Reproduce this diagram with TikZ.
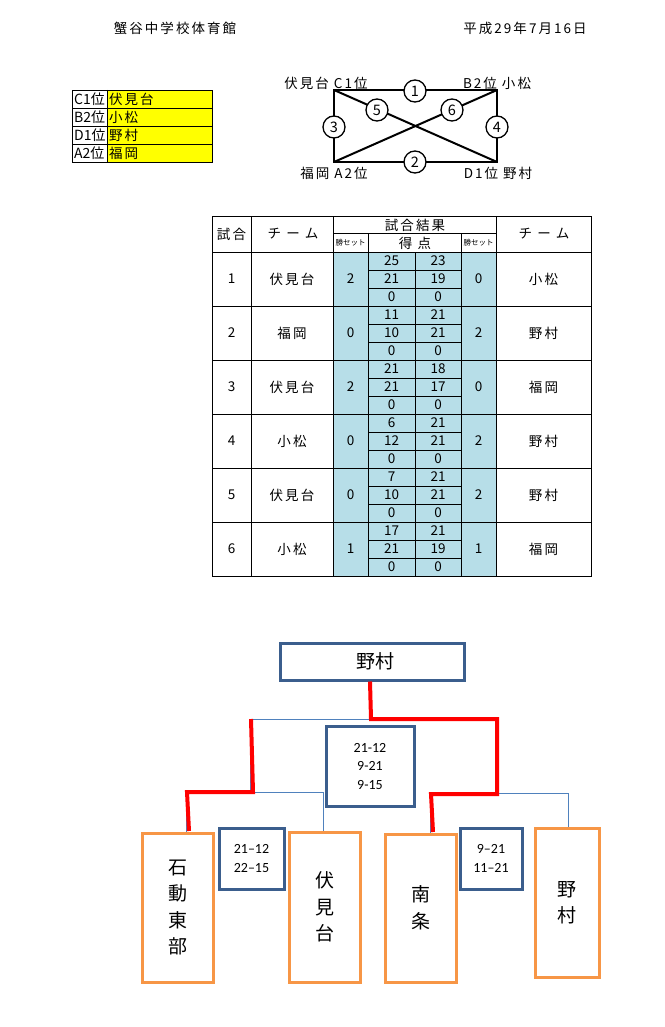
\documentclass[tikz,border=0pt]{standalone}
\usepackage{fontspec}
\newfontfamily\jp[LetterSpace=15]{Noto Sans CJK JP}
\newfontfamily\jpwide[LetterSpace=40]{Noto Sans CJK JP}
\newfontfamily\jpn{Noto Sans CJK JP}
\newfontfamily\calf{Carlito}
\definecolor{boxblue}{HTML}{3B5E8D}
\definecolor{orng}{HTML}{F79646}
\definecolor{thinblue}{HTML}{4F81BD}
\definecolor{tblue}{HTML}{B7DEE8}
\definecolor{yel}{HTML}{FFFF00}
\tikzset{
 txt/.style={inner sep=0pt, font=\jp\fontsize{13.5}{16}\selectfont},
 ntxt/.style={inner sep=0pt, font=\jpn\fontsize{14}{16}\selectfont},
 wtxt/.style={inner sep=0pt, font=\jpwide\fontsize{13.5}{16}\selectfont},
 tnum/.style={inner sep=0pt, font=\jpn\fontsize{13.5}{15}\selectfont},
 smalltxt/.style={inner sep=0pt, font=\jpn\fontsize{7.5}{9}\selectfont},
 tline/.style={line width=0.9pt, black},
 diag/.style={line width=2pt, black},
 cnum/.style={circle, draw=black, line width=1.3pt, fill=white, minimum size=22pt, inner sep=0pt, font=\jpn\fontsize{14.5}{16}\selectfont},
 bluebox/.style={draw=boxblue, line width=3pt, fill=white, inner sep=0pt},
 orangebox/.style={draw=orng, line width=3pt, fill=white, inner sep=0pt, align=center, font=\jpn\fontsize{19}{26.5}\selectfont},
 score/.style={bluebox, align=center, font=\calf\fontsize{14}{18.5}\selectfont},
 brk/.style={draw=thinblue, line width=0.9pt},
 win/.style={draw=red, line width=4pt},
}
\begin{document}
\begin{tikzpicture}[x=1pt,y=-1pt]
\useasboundingbox (0,0) rectangle (664,1027);
\fill[white] (0,0) rectangle (664,1027);

% heading
\node[txt] (title) at (175,28) {蟹谷中学校体育館};
\node[txt] (date) at (525,28) {平成29年7月16日};

% small table
\fill[yel] (107,90) rectangle (212,162);
\draw[tline] (72,90) rectangle (212,162);
\draw[tline] (107,90) -- (107,162);
\foreach \y in {108,126,144} \draw[tline] (72,\y) -- (212,\y);
\foreach \k/\p/\t [count=\j] in {C1位/伏見台/99, B2位/小松/117, D1位/野村/135, A2位/福岡/153}{
  \node[ntxt, anchor=west] (pl\j) at (74,\t) {\k};
  \node[txt, anchor=west] (pt\j) at (109,\t) {\p};
}

% league diagram
\coordinate (tl) at (334,90);
\coordinate (tr) at (497,90);
\coordinate (bl) at (334,162);
\coordinate (br) at (497,162);
\draw[diag] (tl) -- (tr) -- (br) -- (bl) -- cycle;
\draw[diag] (tl) -- (br);
\draw[diag] (tr) -- (bl);
\node[cnum] (c1) at (415,91) {1};
\node[cnum] (c2) at (415,162) {2};
\node[cnum] (c3) at (334,127) {3};
\node[cnum] (c4) at (497,127) {4};
\node[cnum] (c5) at (377,110) {5};
\node[cnum] (c6) at (452,110) {6};
\node[txt] (ltl) at (326,83) {伏見台 C1位};
\node[txt] (ltr) at (497,83) {B2位 小松};
\node[txt] (lbl) at (334,173) {福岡 A2位};
\node[txt] (lbr) at (498,173) {D1位 野村};

% results table
\fill[tblue] (333,252) rectangle (496,576);
\draw[tline] (212,216) rectangle (591,576);
\foreach \x in {251,333,496} \draw[tline] (\x,216) -- (\x,576);
\draw[tline] (333,233.5) -- (496,233.5);
\foreach \x in {368,461} \draw[tline] (\x,233.5) -- (\x,576);
\draw[tline] (415,252) -- (415,576);
\foreach \y in {252,306,360,414,468,522}{
  \draw[tline] (212,\y) -- (591,\y);
  \draw[tline] (368,{\y+18}) -- (461,{\y+18});
  \draw[tline] (368,{\y+36}) -- (461,{\y+36});
}
\node[txt] (h1) at (231.5,234) {試合};
\node[wtxt] (h2) at (293,234) {チーム};
\node[txt] (h3) at (415,225) {試合結果};
\node[smalltxt] (h4) at (350.5,243) {勝セット};
\node[wtxt] (h5) at (415,243) {得点};
\node[smalltxt] (h6) at (478.5,243) {勝セット};
\node[wtxt] (h7) at (544,234) {チーム};
\foreach \a/\sa/\pa/\pb/\qa/\qb/\sb/\b [count=\i] in {
  伏見台/2/25/23/21/19/0/小松,
  福岡/0/11/21/10/21/2/野村,
  伏見台/2/21/18/21/17/0/福岡,
  小松/0/6/21/12/21/2/野村,
  伏見台/0/7/21/10/21/2/野村,
  小松/1/17/21/21/19/1/福岡}{
  \pgfmathsetmacro\t{252+54*(\i-1)}
  \node[tnum] (m\i n) at (231.5,{\t+27}) {\i};
  \node[txt] (m\i a) at (292,{\t+27}) {\a};
  \node[tnum] (m\i sa) at (350.5,{\t+27}) {\sa};
  \node[tnum] (m\i pa) at (391.5,{\t+9}) {\pa};
  \node[tnum] (m\i pb) at (438,{\t+9}) {\pb};
  \node[tnum] (m\i qa) at (391.5,{\t+27}) {\qa};
  \node[tnum] (m\i qb) at (438,{\t+27}) {\qb};
  \node[tnum] (m\i ra) at (391.5,{\t+45}) {0};
  \node[tnum] (m\i rb) at (438,{\t+45}) {0};
  \node[tnum] (m\i sb) at (478.5,{\t+27}) {\sb};
  \node[txt] (m\i b) at (543.5,{\t+27}) {\b};
}

% bracket
\coordinate (j1l) at (250,719);
\coordinate (j1r) at (497,719);
\coordinate (j2a) at (186,792);
\coordinate (j2b) at (323,792);
\coordinate (j3a) at (430,793);
\coordinate (j3b) at (568,793);
\node[bluebox, minimum width=184pt, minimum height=37pt, font=\jpn\fontsize{19}{22}\selectfont] (champ) at (372,661.5) {\hspace{6pt}野村};
\node[score, minimum width=88pt, minimum height=80pt] (sc0) at (370,766) {21-12\\9-21\\9-15};
\node[score, minimum width=65pt, minimum height=61pt, font=\calf\fontsize{14}{19}\selectfont] (sc1) at (251.5,858.5) {21–12\\22–15};
\node[score, minimum width=62pt, minimum height=61pt, font=\calf\fontsize{14}{19}\selectfont] (sc2) at (491,858.5) {9–21\\11–21};
\node[orangebox, minimum width=71pt, minimum height=149pt] (ta) at (177.5,907.5) {石\\動\\東\\部};
\node[orangebox, minimum width=71pt, minimum height=150pt] (tb) at (324.5,907) {伏\\見\\台};
\node[orangebox, minimum width=71pt, minimum height=148pt] (tc) at (420.5,908) {南\\条};
\node[orangebox, minimum width=64pt, minimum height=149pt] (td) at (567,902.5) {野\\村};

\draw[brk] (j1l) -- (j1r);
\draw[brk] (j1l) -- (j1l |- j2a);
\draw[brk] (j1r) -- (j1r |- j3a);
\draw[brk] (j2a) -- (j2b);
\draw[brk] (j3a) -- (j3b);
\draw[brk] (j2a) -- (j2a |- ta.north);
\draw[brk] (j2b) -- (j2b |- tb.north);
\draw[brk] (j3a) -- (j3a |- tc.north);
\draw[brk] (j3b) -- (j3b |- td.north);

\draw[win] ([xshift=-2pt]champ.south) -- ([xshift=-1pt]champ.south |- j1r) -- (j1r) -- (497,794) -- (431,794) -- (433,832);
\draw[win] (251,719) -- (253,792) -- (187,792) -- (189,831);
\end{tikzpicture}
\end{document}
